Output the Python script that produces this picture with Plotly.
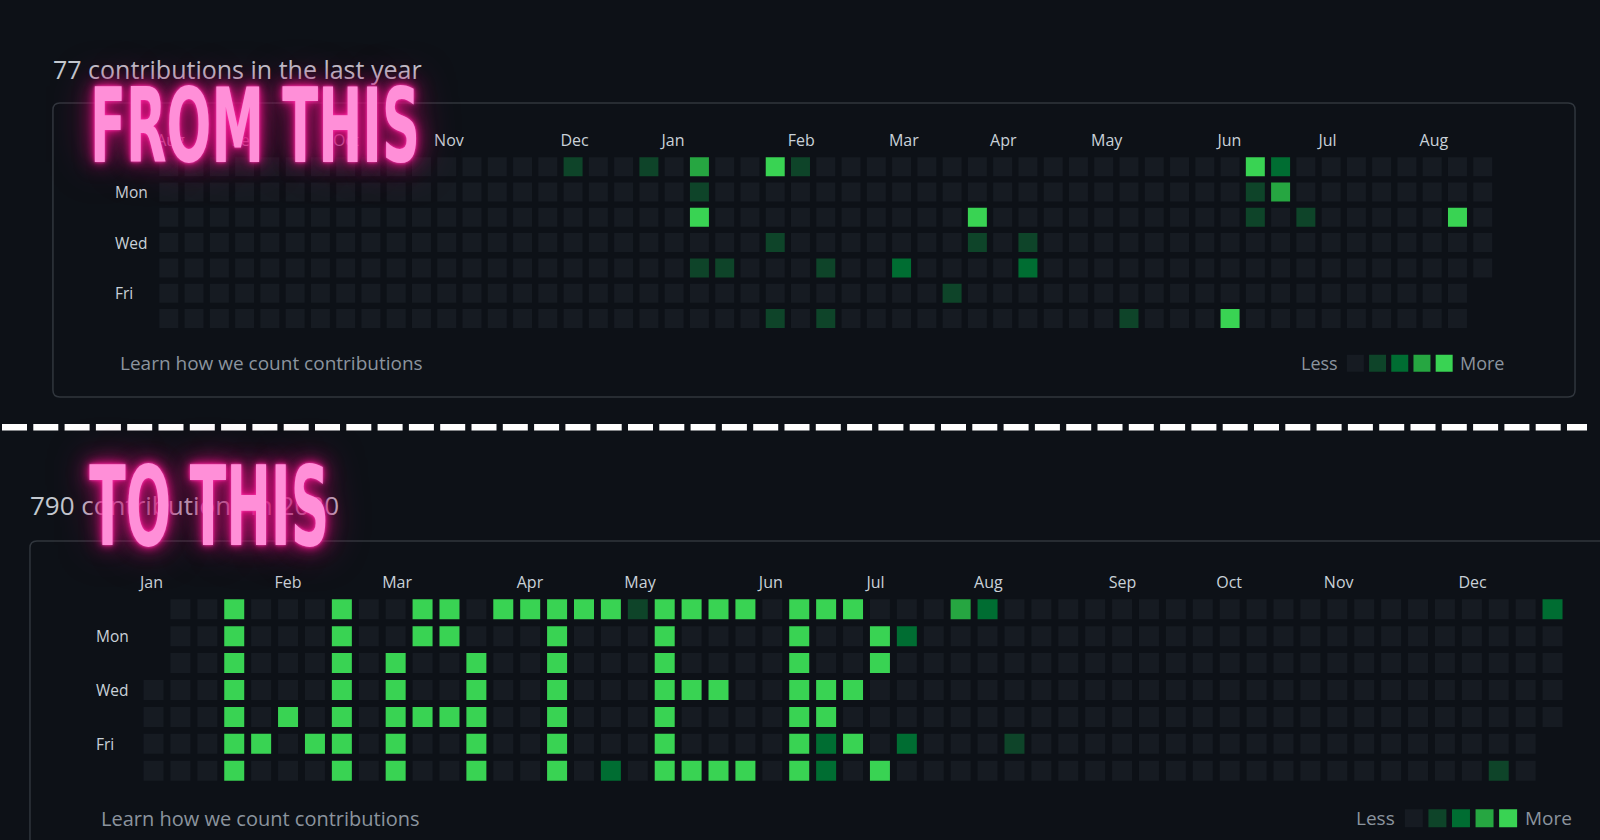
import plotly.graph_objects as go

W, H = 1600, 840
BG = "#0d1117"
LEVEL_COLORS = ["#161b22", "#0e4429", "#006d32", "#26a641", "#39d353"]

# ---------------- data ----------------
# contribution level per weekday row (Sun..Sat), one character per week column,
# '.' = day outside the period; spaces only group columns by ten for readability
top_title = "77 contributions in the last year"
top_rows = [
    "0000000000 0000001001 0300410000 0000000000 0004200000 000",
    "0000000000 0000000000 0100000000 0000000000 0001300000 000",
    "0000000000 0000000000 0400000000 0040000000 0001010000 040",
    "0000000000 0000000000 0000100000 0010100000 0000000000 000",
    "0000000000 0000000000 0110001002 0000200000 0000000000 000",
    "0000000000 0000000000 0000000000 0100000000 0000000000 00.",
    "0000000000 0000000000 0000101000 0000000010 0040000000 00.",
]
top_months = ["Aug", "Sep", "Oct", "Nov", "Dec", "Jan", "Feb", "Mar", "Apr", "May", "Jun", "Jul", "Aug"]
top_month_cols = [0, 3, 7, 11, 16, 20, 25, 29, 33, 37, 42, 46, 50]

bottom_title = "790 contributions in 2020"
bottom_rows = [
    ".004000400 4404444414 4440444000 3200000000 0000000000 002",
    ".004000400 4400040004 0000400420 0000000000 0000000000 000",
    ".004000404 0040040004 0000400400 0000000000 0000000000 000",
    "0004000404 0040040004 4400444000 0000000000 0000000000 000",
    "0004040404 4440040004 0000440000 0000000000 0000000000 000",
    "0004404404 0040040004 0000424020 0010000000 0000000000 00.",
    "0004000404 0040040204 4440420400 0000000000 0000000000 10.",
]
bottom_months = ["Jan", "Feb", "Mar", "Apr", "May", "Jun", "Jul", "Aug", "Sep", "Oct", "Nov", "Dec"]
bottom_month_cols = [0, 5, 9, 14, 18, 23, 27, 31, 36, 40, 44, 49]

day_labels = ["Mon", "Wed", "Fri"]
day_label_rows = [1, 3, 5]
legend_levels = [0, 1, 2, 3, 4]
learn_text = "Learn how we count contributions"
headline_top = "FROM THIS"
headline_bottom = "TO THIS"

# ---------------- helpers ----------------
def fx(p):
    return p / W

def fy(p):
    return 1 - p / H

def cells(rows):
    xs, ys, cs = [], [], []
    for r, row in enumerate(rows):
        for c, ch in enumerate(row.replace(" ", "")):
            if ch == ".":
                continue
            xs.append(c)
            ys.append(r)
            cs.append(LEVEL_COLORS[int(ch)])
    return xs, ys, cs

def rounded_rect(x0, y0, x1, y1, r):
    return (f"M {fx(x0 + r)},{fy(y0)} L {fx(x1 - r)},{fy(y0)} "
            f"Q {fx(x1)},{fy(y0)} {fx(x1)},{fy(y0 + r)} L {fx(x1)},{fy(y1 - r)} "
            f"Q {fx(x1)},{fy(y1)} {fx(x1 - r)},{fy(y1)} L {fx(x0 + r)},{fy(y1)} "
            f"Q {fx(x0)},{fy(y1)} {fx(x0)},{fy(y1 - r)} L {fx(x0)},{fy(y0 + r)} "
            f"Q {fx(x0)},{fy(y0)} {fx(x0 + r)},{fy(y0)} Z")

fig = go.Figure()

tx, ty, tc = cells(top_rows)
fig.add_trace(go.Scatter(x=tx, y=ty, mode="markers", xaxis="x", yaxis="y",
                         marker=dict(symbol="square", size=19, color=tc, line=dict(width=0)),
                         hoverinfo="skip", showlegend=False))
bx, by, bc = cells(bottom_rows)
fig.add_trace(go.Scatter(x=bx, y=by, mode="markers", xaxis="x2", yaxis="y2",
                         marker=dict(symbol="square", size=20, color=bc, line=dict(width=0)),
                         hoverinfo="skip", showlegend=False))
fig.add_trace(go.Scatter(x=legend_levels, y=[0] * len(legend_levels), mode="markers",
                         xaxis="x3", yaxis="y3",
                         marker=dict(symbol="square", size=17,
                                     color=[LEVEL_COLORS[v] for v in legend_levels]),
                         hoverinfo="skip", showlegend=False))
fig.add_trace(go.Scatter(x=legend_levels, y=[0] * len(legend_levels), mode="markers",
                         xaxis="x4", yaxis="y4",
                         marker=dict(symbol="square", size=18,
                                     color=[LEVEL_COLORS[v] for v in legend_levels]),
                         hoverinfo="skip", showlegend=False))

month_font = dict(family="Open Sans, Noto Sans, sans-serif", size=16, color="#c9d1d9")
hidden = dict(showgrid=False, zeroline=False, showline=False, showticklabels=False, ticks="", fixedrange=True)

fig.update_layout(
    width=W, height=H, margin=dict(l=0, r=0, t=0, b=0),
    paper_bgcolor=BG, plot_bgcolor="rgba(0,0,0,0)",
    xaxis=dict(domain=[fx(154.35), fx(1495.25)], range=[-0.5, 52.5], side="top",
               tickmode="array", tickvals=[c - 0.5 for c in top_month_cols], ticktext=top_months,
               ticklabelposition="outside right", tickfont=month_font, ticks="",
               showgrid=False, zeroline=False, showline=False, fixedrange=True, anchor="y",
               ticklabelstandoff=4),
    yaxis=dict(domain=[fy(331.15), fy(154.05)], range=[6.5, -0.5], anchor="x", **hidden),
    xaxis2=dict(domain=[fx(138.25), fx(1565.95)], range=[-0.5, 52.5], side="top",
                tickmode="array", tickvals=[c - 0.5 for c in bottom_month_cols], ticktext=bottom_months,
                ticklabelposition="outside right", tickfont=month_font, ticks="",
                showgrid=False, zeroline=False, showline=False, fixedrange=True, anchor="y2",
                ticklabelstandoff=4),
    yaxis2=dict(domain=[fy(784.15), fy(595.85)], range=[6.5, -0.5], anchor="x2", **hidden),
    xaxis3=dict(domain=[fx(1343.9), fx(1455.1)], range=[-0.5, 4.5], anchor="y3", **hidden),
    yaxis3=dict(domain=[fy(374.3), fy(352.3)], range=[-0.5, 0.5], anchor="x3", **hidden),
    xaxis4=dict(domain=[fx(1401.8), fx(1519.8)], range=[-0.5, 4.5], anchor="y4", **hidden),
    yaxis4=dict(domain=[fy(829.3), fy(807.3)], range=[-0.5, 0.5], anchor="x4", **hidden),
)

shapes = [
    dict(type="path", xref="paper", yref="paper", path=rounded_rect(51, 103, 1575, 397, 7),
         line=dict(color="#30363d", width=1.5), fillcolor="rgba(0,0,0,0)", layer="below"),
    dict(type="path", xref="paper", yref="paper", path=rounded_rect(28, 541, 1640, 900, 7),
         line=dict(color="#30363d", width=1.5), fillcolor="rgba(0,0,0,0)", layer="below"),
    dict(type="line", xref="paper", yref="paper", x0=fx(0), x1=fx(1587), y0=fy(427.3), y1=fy(427.3),
         line=dict(color="#ffffff", width=6.5, dash="25px,6.3px")),
]
fig.update_layout(shapes=shapes)

text_font = "Open Sans, Noto Sans, sans-serif"
ann = []
ann.append(dict(text=top_title, x=fx(49), y=fy(69), xanchor="left", yanchor="middle",
                font=dict(family=text_font, size=25, color="#c3c9d0")))
ann.append(dict(text=bottom_title, x=fx(26), y=fy(505), xanchor="left", yanchor="middle",
                font=dict(family=text_font, size=26, color="#c3c9d0")))
for lab, r in zip(day_labels, day_label_rows):
    ann.append(dict(text=lab, x=fx(111), y=r, yref="y", xanchor="left", yanchor="middle",
                    font=dict(family=text_font, size=15.5, color="#c9d1d9")))
    ann.append(dict(text=lab, x=fx(92), y=r, yref="y2", xanchor="left", yanchor="middle",
                    font=dict(family=text_font, size=15.5, color="#c9d1d9")))
ann.append(dict(text=learn_text, x=fx(116), y=fy(363), xanchor="left", yanchor="middle",
                font=dict(family=text_font, size=19, color="#8b949e")))
ann.append(dict(text=learn_text, x=fx(97), y=fy(818), xanchor="left", yanchor="middle",
                font=dict(family=text_font, size=20, color="#8b949e")))
for x_less, x_more, yv, sz in [(1340, 1458, 363, 18), (1397, 1523, 818, 19)]:
    ann.append(dict(text="Less", x=fx(x_less), y=fy(yv), xanchor="right", yanchor="middle",
                    font=dict(family=text_font, size=sz, color="#8b949e")))
    ann.append(dict(text="More", x=fx(x_more), y=fy(yv), xanchor="left", yanchor="middle",
                    font=dict(family=text_font, size=sz, color="#8b949e")))

glow = "0 0 3px #ff3cb4, 0 0 9px #ff1493, 0 0 22px #d1107a, 0 0 44px #8a0b50"
neon_family = "DejaVu Sans Condensed, DejaVu Sans, sans-serif"
ann.append(dict(text=headline_top, x=fx(253), y=fy(126), xanchor="center", yanchor="middle",
                font=dict(family=neon_family, size=103, color="#ff8fd8", weight="bold", shadow=glow)))
ann.append(dict(text=headline_bottom, x=fx(207), y=fy(507), xanchor="center", yanchor="middle",
                font=dict(family=neon_family, size=110, color="#ff8fd8", weight="bold", shadow=glow)))
for a in ann:
    a.setdefault("xref", "paper")
    a.setdefault("yref", "paper")
    a["showarrow"] = False
fig.update_layout(annotations=ann)

# page setup: no default body margin, and the condensed poster lettering of the headlines
post = """
document.body.style.margin = '0';
document.body.style.backgroundColor = '#0d1117';
var targets = {'FROM THIS': 330, 'TO THIS': 240};
document.querySelectorAll('text.annotation-text').forEach(function (t) {
  var w = targets[t.textContent];
  if (w) {
    var b = t.getBBox();
    t.style.transformBox = 'fill-box';
    t.style.transformOrigin = 'center';
    t.style.transform = 'scaleX(' + (w / b.width) + ')';
  }
});
"""
fig.write_html("out.html", post_script=post, config={"displayModeBar": False})
